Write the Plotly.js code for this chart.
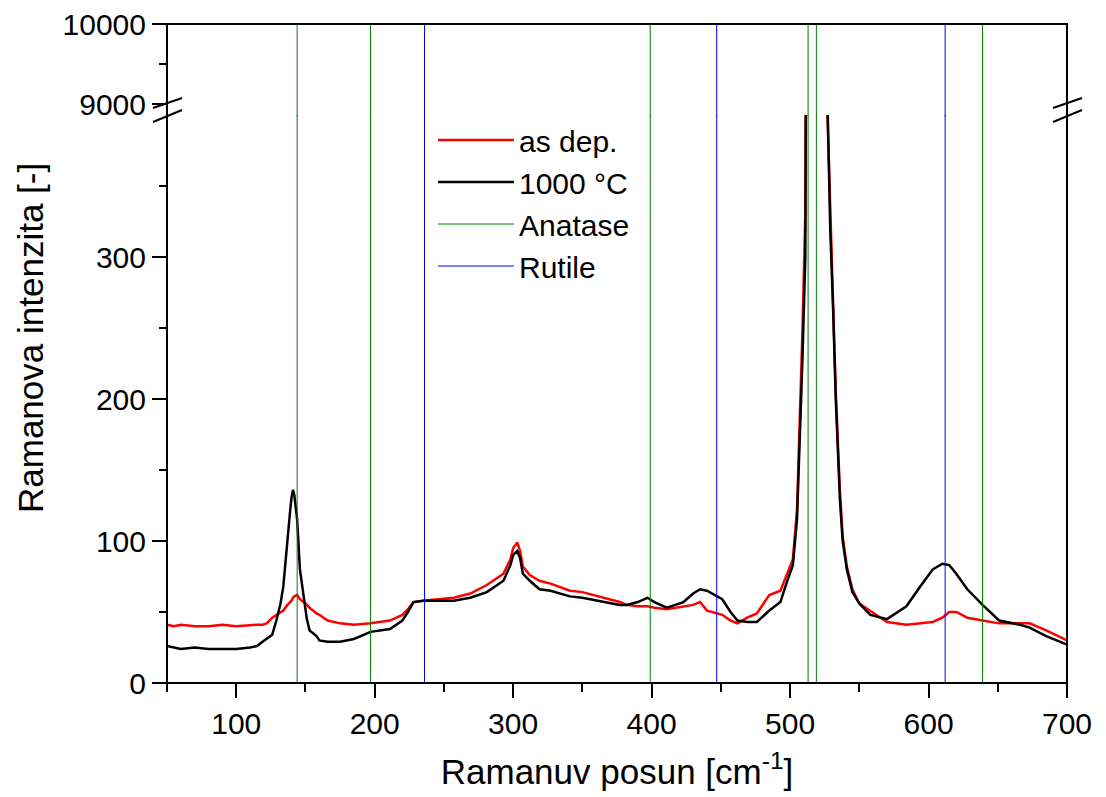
<!DOCTYPE html>
<html>
<head>
<meta charset="utf-8">
<script src="https://cdn.plot.ly/plotly-3.0.1.min.js"></script>
<style>html,body{margin:0;padding:0;background:#fff;} #chart{width:1106px;height:797px;}</style>
</head>
<body>
<div id="chart"></div>
<script>
// Raman shift (cm^-1)
const shift = [50,55,60,70,80,90,100,110,115,119,122,126,129,132,134,137,139,140,141,142,144,146,150,151,153,158,160,166,175,185,197,211,220,224,228,235,245,257,269,281,293,298,300,303,305,307,312,319,327,341,350,365,377,382,390,397,402,411,423,430,435,440,451,457,462,469,476,485,493,498,502,505,507,509,511,513,515,517,519,521,523,525,527,529,531,533,536,538,541,545,550,558,570,584,594,603,610,615,620,628,639,651,666,673,685,700];
// "as dep." intensity
const asDep = [41,40,41,40,40,41,40,41,41,41,42,46,48,50,51,55,57,58,60,61,62,59,56,55,53,49,48,44,42,41,42,44,48,52,57,58,59,60,63,69,77,87,95,99,93,82,76,72,70,65,64,60,57,55,54,54,53,52,54,55,57,51,48,44,42,46,49,62,65,77,87,122,180,250,330,480,900,2000,3500,2500,1200,650,400,330,270,205,135,103,82,66,56,51,43,41,42,43,46,50,50,46,44,42,42,42,37,30];
// "1000 °C" intensity
const annealed = [26,25,24,25,24,24,24,25,26,29,31,34,44,56,68,103,122,131,136,132,115,80,51,45,37,33,30,29,29,31,36,38,44,50,57,58,58,58,60,64,72,83,90,93,88,77,72,66,65,61,60,57,55,55,57,60,57,53,57,63,66,65,59,50,44,43,43,51,57,72,83,115,170,230,300,420,800,1800,3200,2300,1100,600,410,320,265,200,129,100,80,64,56,48,45,54,68,80,84,83,77,66,55,44,41,39,33,27];
// reference line positions
const anatasePos = [144,197,399,513,519,639];
const rutilePos = [236,447,612];
const xTicks = [100,200,300,400,500,600,700];
const yTicksLow = [0,100,200,300];
const yMinorLow = [50,150,250,350];
const yTicksHigh = [9000,10000];
const yTickTextHigh = ['9000','10000'];
const yMinorHigh = [9500];

function vlines(pos, y0, y1){
  const xs=[], ys=[];
  pos.forEach((p,i)=>{ if(i>0){xs.push(null);ys.push(null);} xs.push(p,p); ys.push(y0,y1); });
  return {xs, ys};
}
const an = vlines(anatasePos, 0, 400);
const ru = vlines(rutilePos, 0, 400);

const FONT = 'Liberation Sans, Arial, Helvetica, sans-serif';
const lowTop = (683-115)/659;
const highBot = (683-104)/659;

const traces = [
  {x: shift, y: asDep, mode:'lines', name:'as dep.', line:{color:'#ff0000', width:2.5}, xaxis:'x', yaxis:'y'},
  {x: shift, y: annealed, mode:'lines', name:'1000 °C', line:{color:'#000000', width:2.5}, xaxis:'x', yaxis:'y'},
  {x: an.xs, y: an.ys, mode:'lines', name:'Anatase', line:{color:'#008000', width:1}, xaxis:'x', yaxis:'y'},
  {x: ru.xs, y: ru.ys, mode:'lines', name:'Rutile', line:{color:'#0000ff', width:1}, xaxis:'x', yaxis:'y'},
  {x: [null], y: [null], mode:'lines', showlegend:false, hoverinfo:'skip', xaxis:'x', yaxis:'y2'}
];

const shapes = [];
anatasePos.forEach(p=>shapes.push({type:'line', xref:'x', yref:'paper', x0:p, x1:p, y0:lowTop-0.002, y1:1, line:{color:'#008000', width:1}, layer:'above'}));
rutilePos.forEach(p=>shapes.push({type:'line', xref:'x', yref:'paper', x0:p, x1:p, y0:lowTop-0.002, y1:1, line:{color:'#0000ff', width:1}, layer:'above'}));
// frame
shapes.push({type:'rect', xref:'paper', yref:'paper', x0:0, x1:1, y0:0, y1:1, line:{color:'#000', width:2}, layer:'above'});
// break marks
function brk(xc){
  const dx0 = -14/900, dx1 = 15/900;
  shapes.push({type:'line', xref:'paper', yref:'paper', x0:xc+dx0, x1:xc+dx1, y0:(683-108)/659, y1:(683-98)/659, line:{color:'#000', width:2}, layer:'above'});
  shapes.push({type:'line', xref:'paper', yref:'paper', x0:xc+dx0, x1:xc+dx1, y0:(683-122)/659, y1:(683-110)/659, line:{color:'#000', width:2}, layer:'above'});
}
brk(0); brk(1);

const layout = {
  width:1106, height:797,
  margin:{l:167, r:39, t:24, b:114},
  paper_bgcolor:'#fff', plot_bgcolor:'rgba(0,0,0,0)',
  font:{family:FONT, color:'#000', size:30},
  showlegend:true,
  legend:{x:(433-167)/900, y:(683-114)/659, xanchor:'left', yanchor:'top', bgcolor:'rgba(0,0,0,0)', borderwidth:0, font:{family:FONT, size:30, color:'#000'}, itemwidth:76, tracegroupgap:0},
  xaxis:{range:[50,700], tickvals:xTicks, ticks:'outside', ticklen:14, tickwidth:2, tickcolor:'#000',
    minor:{dtick:50, tick0:0, ticks:'outside', ticklen:8, tickwidth:2, tickcolor:'#000', showgrid:false},
    showgrid:false, zeroline:false, showline:false, anchor:'y',
    tickfont:{family:FONT, size:30, color:'#000'},
    title:{text:'Ramanuv posun [cm<sup>-1</sup>]', font:{family:FONT, size:35, color:'#000'}, standoff:20}},
  yaxis:{domain:[0, lowTop], range:[0,400], tickvals:yTicksLow, ticks:'outside', ticklen:14, tickwidth:2, tickcolor:'#000',
    minor:{tickvals:yMinorLow, ticks:'outside', ticklen:7, tickwidth:2, tickcolor:'#000', showgrid:false},
    showgrid:false, zeroline:false, showline:false, anchor:'x',
    tickfont:{family:FONT, size:30, color:'#000'}},
  yaxis2:{domain:[highBot, 1], range:[9000,10000], tickvals:yTicksHigh, ticktext:yTickTextHigh, ticks:'outside', ticklen:14, tickwidth:2, tickcolor:'#000',
    minor:{tickvals:yMinorHigh, ticks:'outside', ticklen:7, tickwidth:2, tickcolor:'#000', showgrid:false},
    showgrid:false, zeroline:false, showline:false, anchor:'x',
    tickfont:{family:FONT, size:30, color:'#000'}},
  shapes: shapes,
  annotations:[{text:'Ramanova intenzita [-]', xref:'paper', yref:'paper', x:(30-167)/900, y:(683-338)/659, xanchor:'center', yanchor:'middle', textangle:-90, showarrow:false, font:{family:FONT, size:35, color:'#000'}}]
};

Plotly.newPlot('chart', traces, layout, {displayModeBar:false, staticPlot:true});
</script>
</body>
</html>
